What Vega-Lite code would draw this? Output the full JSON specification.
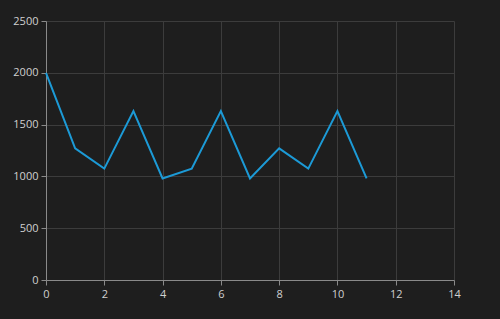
{
  "$schema": "https://vega.github.io/schema/vega-lite/v6.json",
  "autosize": "none",
  "width": 408,
  "height": 259,
  "padding": {"left": 46, "top": 21, "right": 46, "bottom": 39},
  "background": "#1e1e1e",
  "config": {
    "view": {"stroke": null},
    "axis": {
      "labelFont": "Open Sans",
      "labelFontSize": 11,
      "labelColor": "#d0d0d0",
      "gridColor": "#3c3c3c",
      "gridOpacity": 1,
      "domainColor": "#8a8a8a",
      "tickColor": "#8a8a8a",
      "tickSize": 5,
      "labelFlush": false,
      "labelOverlap": false,
      "title": null
    }
  },
  "data": {
    "values": [
      {"x": 0, "y": 2000},
      {"x": 1, "y": 1270},
      {"x": 2, "y": 1075},
      {"x": 3, "y": 1630},
      {"x": 4, "y": 980},
      {"x": 5, "y": 1075},
      {"x": 6, "y": 1630},
      {"x": 7, "y": 980},
      {"x": 8, "y": 1270},
      {"x": 9, "y": 1075},
      {"x": 10, "y": 1630},
      {"x": 11, "y": 980}
    ]
  },
  "mark": {"type": "line", "color": "#1c9ad6", "strokeWidth": 2},
  "encoding": {
    "x": {
      "field": "x",
      "type": "quantitative",
      "scale": {"domain": [0, 14], "nice": false},
      "axis": {"values": [0, 2, 4, 6, 8, 10, 12, 14], "labelPadding": 3, "format": "d"}
    },
    "y": {
      "field": "y",
      "type": "quantitative",
      "scale": {"domain": [0, 2500], "nice": false},
      "axis": {"values": [0, 500, 1000, 1500, 2000, 2500], "labelPadding": 3, "format": "d"}
    }
  }
}
